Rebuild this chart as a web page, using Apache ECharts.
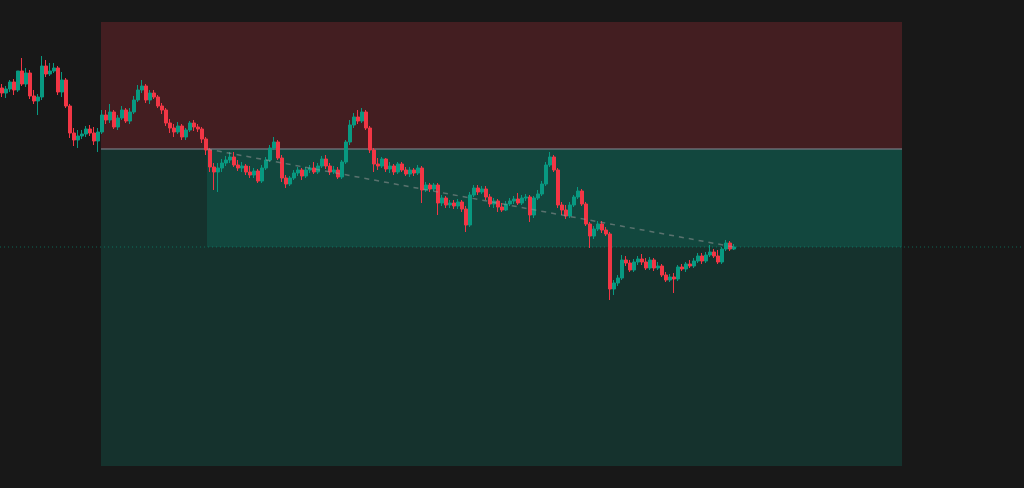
<!DOCTYPE html>
<html><head><meta charset="utf-8">
<style>html,body{margin:0;padding:0;background:#181818;overflow:hidden;}#c{width:1024px;height:488px;}</style>
<script src="https://cdn.jsdelivr.net/npm/echarts@6/dist/echarts.min.js"></script>
</head><body><div id="c"></div>
<script>
const opens = [
412,407,411,418,410,429,416,427,404,399,
403,434,426,429,432,408,420,394,367,360,
364,366,371,367,359,368,385,380,388,373,
382,390,379,388,400,410,414,400,407,403,
394,390,377,372,368,374,363,370,377,373,
371,361,350,333,328,332,337,340,343,335,
332,334,328,325,329,319,332,340,352,358,
342,322,316,322,327,330,324,330,332,328,
334,341,334,328,330,323,338,358,375,383,
379,388,372,350,336,334,341,331,334,328,
336,330,326,330,327,332,310,315,311,315,
297,302,295,297,294,298,291,275,305,312,
308,311,303,296,299,293,290,296,299,301,
297,302,303,285,302,306,316,335,343,330,
295,290,284,295,303,309,296,276,264,271,
276,270,266,211,217,222,240,237,230,238,
241,238,232,240,232,234,225,220,223,221,
233,231,236,234,239,244,239,245,248,244,
238,251,257,251];
const closes = [
407,411,418,410,429,416,427,404,399,403,
434,426,429,432,408,420,394,367,360,364,
366,371,367,359,368,385,380,388,373,382,
390,379,388,400,410,414,400,407,403,394,
390,377,372,368,374,363,370,377,373,371,
361,350,333,328,332,337,340,343,335,332,
334,328,325,329,319,332,340,352,358,342,
322,316,322,327,330,324,330,332,328,334,
341,334,328,330,323,338,358,375,383,379,
388,372,350,336,334,341,331,334,328,336,
330,326,330,327,332,310,315,311,315,297,
302,295,297,294,298,291,275,305,312,308,
311,303,296,299,293,290,296,299,301,297,
302,303,285,302,306,316,335,343,330,295,
290,284,295,303,309,296,276,264,271,276,
270,266,211,217,222,240,237,230,238,241,
238,232,240,232,234,225,220,223,221,233,
231,236,234,239,244,239,245,248,244,238,
251,257,251,253];
const highs = [
416,414,420,421,424,442,432,430,410,406,
444,440,437,437,434,428,422,396,372,370,
370,374,375,373,372,390,390,396,390,385,
394,392,392,404,415,420,416,410,410,405,
397,392,381,376,378,376,372,379,380,376,
373,363,352,337,337,341,344,348,348,340,
338,336,334,332,331,335,343,355,363,360,
345,325,324,330,333,332,333,335,338,337,
344,345,337,334,333,340,360,380,387,390,
392,390,374,352,342,343,342,338,336,338,
338,333,333,332,335,334,318,317,317,317,
305,304,300,300,301,300,294,308,315,315,
314,314,306,302,301,297,299,302,304,307,
305,306,305,304,310,319,338,348,345,332,
298,295,298,305,313,311,298,278,274,279,
279,273,268,220,225,245,244,240,241,244,
246,242,243,242,238,236,228,226,227,235,
236,238,240,242,247,247,248,255,251,250,
253,260,259,256];
const lows = [
403,402,408,405,408,414,413,401,396,385,
400,423,424,427,405,403,392,362,354,352,
361,363,364,355,348,366,376,377,371,370,
380,377,376,386,398,407,397,396,401,392,
386,374,367,363,366,360,360,368,369,368,
357,345,328,310,308,328,334,337,333,329,
328,325,322,322,317,317,330,338,350,340,
318,312,314,320,324,320,322,327,326,326,
332,331,325,326,321,321,336,355,372,376,
377,370,347,328,330,332,328,327,325,326,
328,324,323,324,325,297,308,308,309,285,
294,292,292,291,291,288,268,273,303,305,
306,300,293,292,288,288,289,294,296,295,
295,299,278,282,300,304,314,333,328,292,
285,281,282,293,301,294,274,252,261,269,
267,264,200,205,214,220,234,228,228,235,
235,230,230,229,230,223,218,218,207,219,
229,228,232,232,237,236,237,243,242,236,
236,249,249,250];

// position tool (short) values
const stopPrice = 478;
const entryPrice = 351;
const targetPrice = 34;
const lastPrice = 253;
const positionStart = 24.75;
const fillStart = 51.25;
const positionEnd = 225;
const xMin = -0.5, xMax = 255.5, yMin = 12, yMax = 500;

const candles = opens.map((o, i) => [i, o, closes[i], lows[i], highs[i]]);
const zoneData = [
  [positionStart, stopPrice, positionEnd, entryPrice],
  [positionStart, entryPrice, positionEnd, targetPrice],
  [fillStart, entryPrice, positionEnd, lastPrice]
];
const zoneColors = ['rgba(242,54,69,0.2)', 'rgba(8,153,129,0.2)', 'rgba(8,153,129,0.2)'];

const chart = echarts.init(document.getElementById('c'), null, {renderer: 'canvas'});
chart.setOption({
  backgroundColor: '#181818',
  animation: false,
  grid: {left: 0, right: 0, top: 0, bottom: 0},
  xAxis: {type: 'value', min: xMin, max: xMax, show: false, splitLine: {show: false}},
  yAxis: {type: 'value', min: yMin, max: yMax, show: false, splitLine: {show: false}},
  series: [
    {
      type: 'custom', z: 1, clip: false,
      encode: {x: [0, 2], y: [1, 3]},
      data: zoneData,
      renderItem: function (params, api) {
        const p0 = api.coord([api.value(0), api.value(1)]);
        const p1 = api.coord([api.value(2), api.value(3)]);
        return {
          type: 'rect',
          shape: {x: Math.min(p0[0], p1[0]), y: Math.min(p0[1], p1[1]),
                  width: Math.abs(p1[0] - p0[0]), height: Math.abs(p1[1] - p0[1])},
          style: {fill: zoneColors[params.dataIndex]}
        };
      }
    },
    {
      type: 'line', z: 2, symbol: 'none', silent: true,
      data: [[positionStart, entryPrice], [positionEnd, entryPrice]],
      lineStyle: {color: 'rgba(120,123,134,0.6)', width: 2}
    },
    {
      type: 'line', z: 2, symbol: 'none', silent: true,
      data: [[xMin, lastPrice], [xMax, lastPrice]],
      lineStyle: {color: 'rgba(8,153,129,0.6)', width: 1, type: [1, 3]}
    },
    {
      type: 'candlestick', z: 3,
      encode: {x: 0, y: [1, 2, 3, 4]},
      data: candles,
      barWidth: 3,
      itemStyle: {
        color: '#089981', color0: '#f23645',
        borderColor: '#089981', borderColor0: '#f23645', borderWidth: 1
      }
    },
    {
      type: 'line', z: 4, symbol: 'none', silent: true,
      data: [[fillStart, entryPrice], [opens.length - 1, lastPrice]],
      lineStyle: {color: 'rgba(150,150,150,0.55)', width: 1.5, type: [5, 5]}
    }
  ]
});
</script>
</body></html>
